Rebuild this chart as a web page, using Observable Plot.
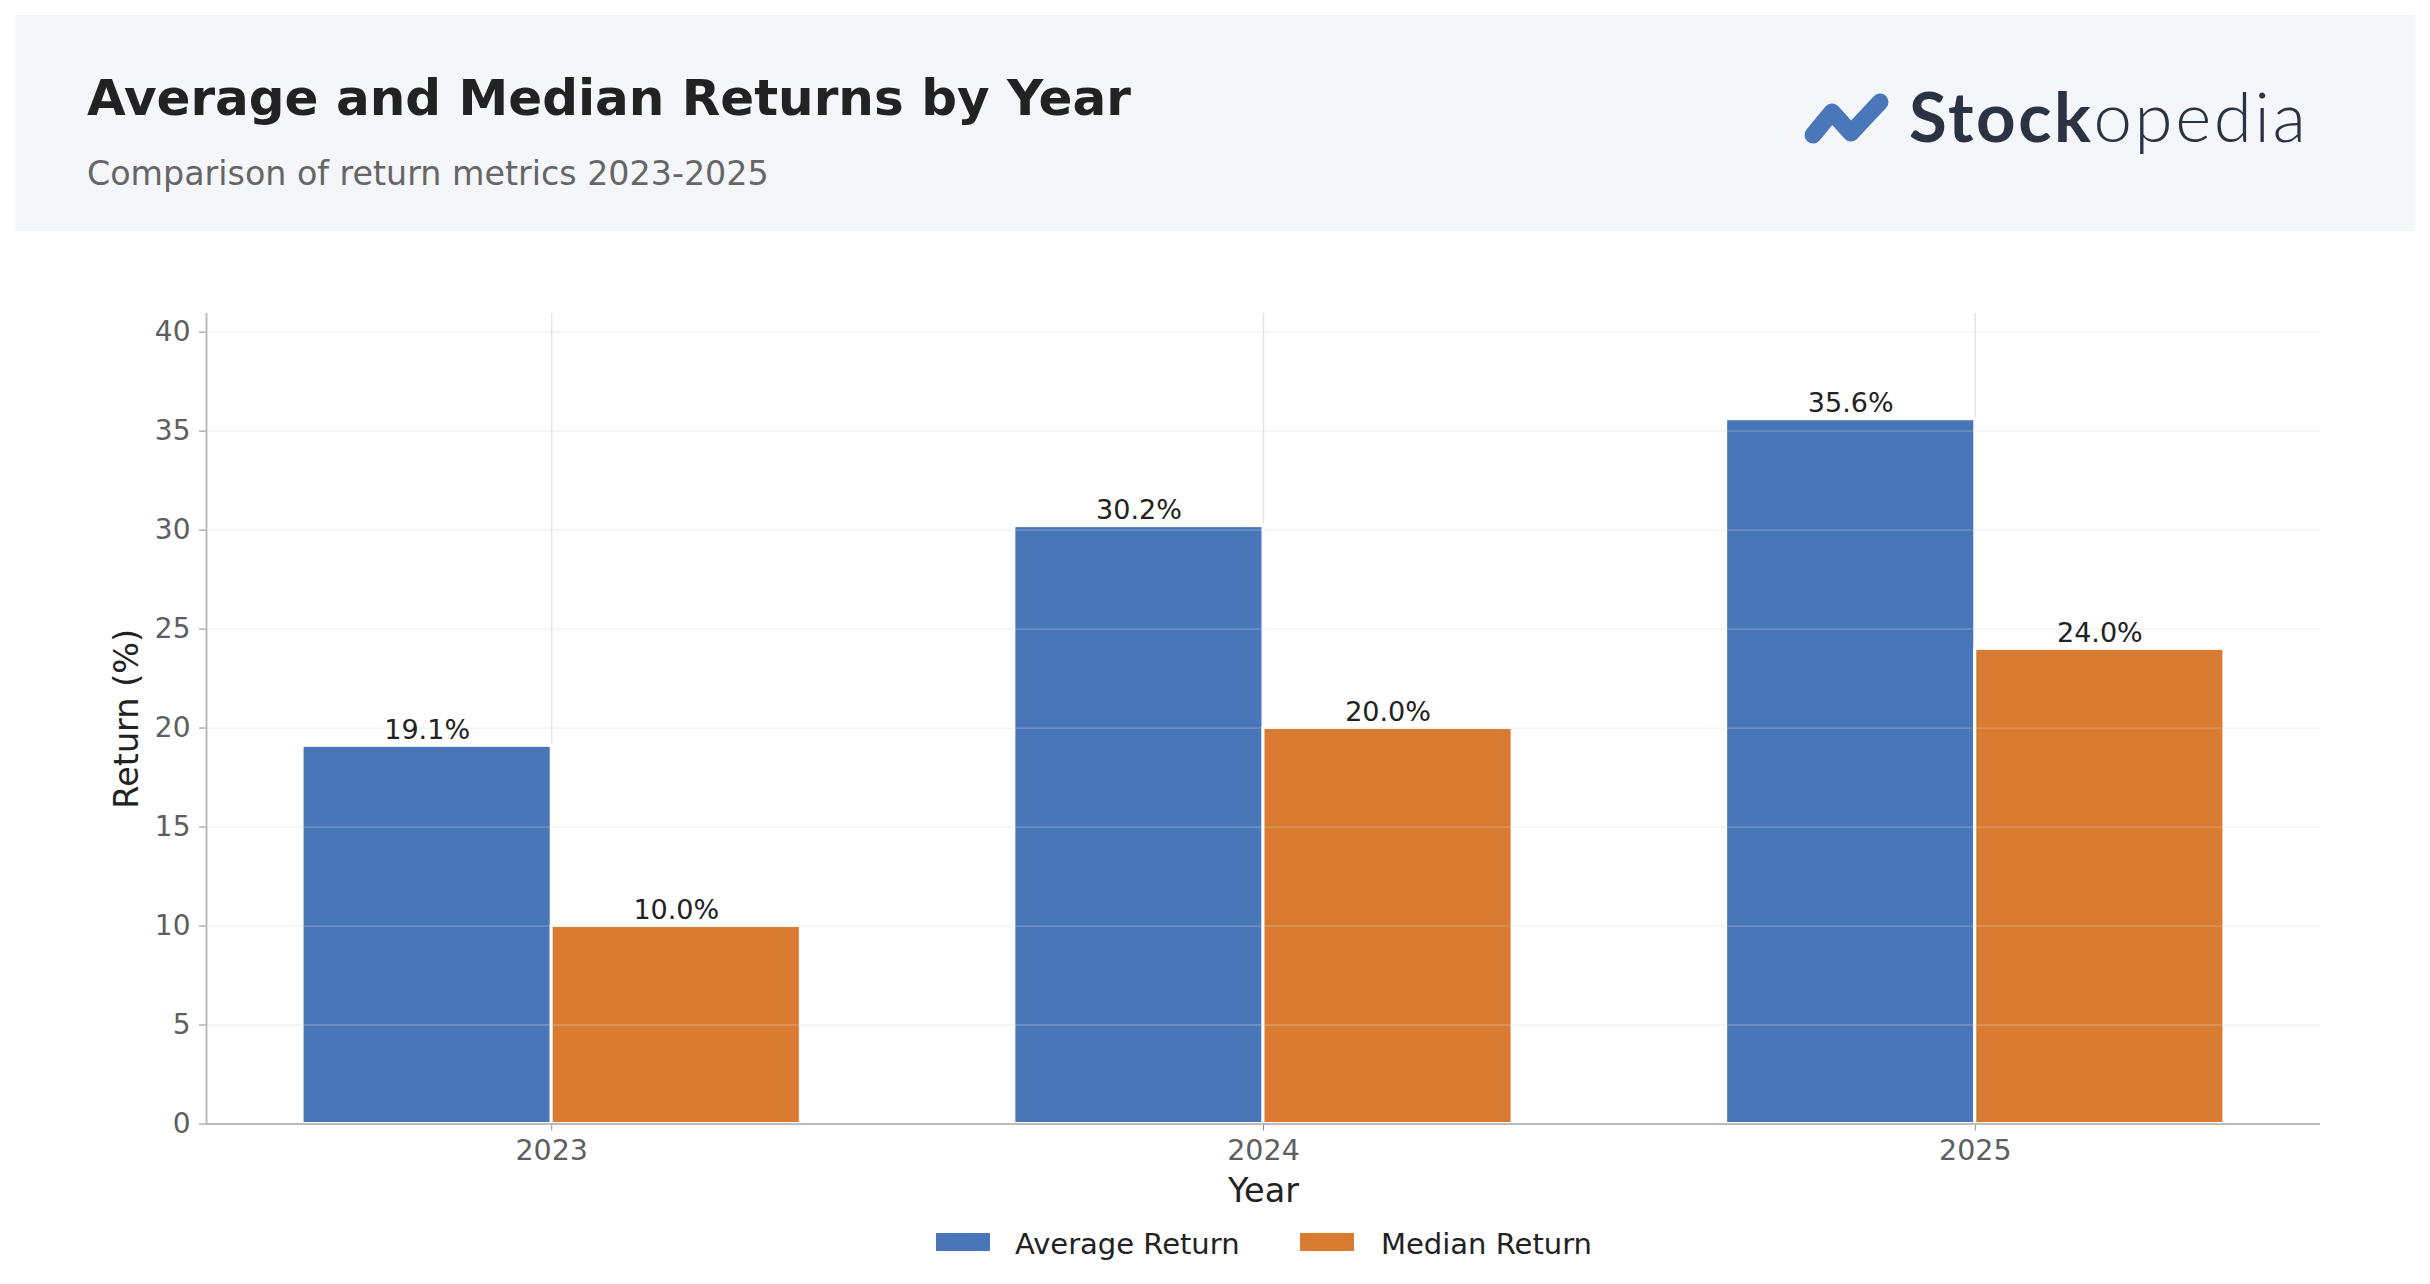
<!DOCTYPE html>
<html>
<head>
<meta charset="utf-8">
<script src="https://cdn.jsdelivr.net/npm/d3@7"></script>
<script src="https://cdn.jsdelivr.net/npm/@observablehq/plot@0.6"></script>
<style>
  html, body { margin: 0; padding: 0; background: #ffffff; }
  #page { position: relative; width: 2430px; height: 1284px; overflow: hidden; font-family: "DejaVu Sans", sans-serif; }
  #header { position: absolute; left: 0; top: 0; }
  #chart { position: absolute; left: 0; top: 261.5px; }
  #legend { position: absolute; left: 0; top: 1200px; }
</style>
</head>
<body>
<div id="page">
  <svg id="header" width="2430" height="240">
    <rect x="15" y="15" width="2400" height="216" fill="#f5f6fa"></rect>
    <text x="87" y="115" font-family="DejaVu Sans" font-weight="bold" font-size="50" fill="#222222">Average and Median Returns by Year</text>
    <text x="87" y="185" font-family="DejaVu Sans" font-size="33.3" fill="#666666">Comparison of return metrics 2023-2025</text>
    <g id="logo">
      <polyline points="1813,135 1832,112 1851,133 1880,102" fill="none" stroke="#4a77ba" stroke-width="17" stroke-linecap="round" stroke-linejoin="round"></polyline>
      <text x="1909" y="142" font-family="Lato" font-size="69" letter-spacing="2.6" fill="#2b3243"><tspan font-weight="bold">Stock</tspan><tspan font-weight="300">opedia</tspan></text>
    </g>
  </svg>
  <div id="chart"></div>
  <svg id="legend" width="2430" height="84"></svg>
</div>
<script>
// ---- data ----
const years = ["2023", "2024", "2025"];
const averageReturn = [19.1, 30.2, 35.6];
const medianReturn = [10.0, 20.0, 24.0];
const seriesNames = ["Average Return", "Median Return"];
const seriesColors = ["#4876b8", "#d97c31"];
const yTicks = [0, 5, 10, 15, 20, 25, 30, 35, 40];

// ---- table ----
const barW = 0.35;
const rows = [];
years.forEach((yr, i) => {
  rows.push({year: yr, i, series: seriesNames[0], value: averageReturn[i], off: -1});
  rows.push({year: yr, i, series: seriesNames[1], value: medianReturn[i], off: 0});
});
const yMax = d3.max(rows, d => d.value) * 1.15;
const xLo = -barW - 0.05 * (years.length - 1 + 2 * barW);
const xHi = years.length - 1 + barW + 0.05 * (years.length - 1 + 2 * barW);

const chart = Plot.plot({
  width: 2430,
  height: 960,
  marginLeft: 206,
  marginRight: 110,
  marginTop: 51,
  marginBottom: 98.5,
  style: {fontFamily: "DejaVu Sans", fontSize: "28px", background: "transparent"},
  x: {domain: [xLo, xHi], axis: null},
  y: {domain: [0, yMax], axis: null},
  color: {domain: seriesNames, range: seriesColors},
  marks: [
    Plot.ruleX(years.map((_, i) => i), {stroke: "#e2e2e2", strokeWidth: 1.3}),
    Plot.rectY(rows, {
      x1: d => d.i + d.off * barW,
      x2: d => d.i + (d.off + 1) * barW,
      y1: 0,
      y2: "value",
      fill: "series",
      stroke: "#ffffff",
      strokeWidth: 3
    }),
    Plot.ruleY(yTicks.slice(1), {stroke: "#d4d4d4", strokeOpacity: 0.35, strokeWidth: 1.3}),
    Plot.text(rows, {
      x: d => d.i + (d.off + 0.5) * barW,
      y: "value",
      text: d => d.value.toFixed(1) + "%",
      lineAnchor: "bottom",
      dy: -7,
      fontSize: 27,
      fill: "#222222"
    }),
    Plot.axisY({ticks: yTicks, tickSize: 7, tickPadding: 9, color: "#5e5e5e", stroke: "#8a8a8a", label: null, fontSize: 28}),
    Plot.axisX({ticks: years.map((_, i) => i), tickFormat: i => years[i], tickSize: 7, tickPadding: 9, color: "#5e5e5e", stroke: "#8a8a8a", label: null, fontSize: 28.5}),
    Plot.ruleX([xLo], {stroke: "#bbbbbb", strokeWidth: 2}),
    Plot.ruleY([0], {stroke: "#bbbbbb", strokeWidth: 2}),
    Plot.text(["Return (%)"], {frameAnchor: "left", dx: -79, rotate: -90, textAnchor: "middle", lineAnchor: "middle", fontSize: 33.5, fill: "#222222"}),
    Plot.text(["Year"], {frameAnchor: "bottom", dy: 67, lineAnchor: "middle", fontSize: 33.5, fill: "#222222"})
  ]
});
document.getElementById("chart").appendChild(chart);

// ---- legend ----
const legend = d3.select("#legend");
const legendItems = [
  {name: seriesNames[0], color: seriesColors[0], sx: 936, tx: 1015},
  {name: seriesNames[1], color: seriesColors[1], sx: 1300, tx: 1381}
];
legendItems.forEach(it => {
  legend.append("rect").attr("x", it.sx).attr("y", 33).attr("width", 54).attr("height", 18).attr("fill", it.color);
  legend.append("text").attr("x", it.tx).attr("y", 53.5).attr("font-family", "DejaVu Sans").attr("font-size", 29).attr("fill", "#222222").text(it.name);
});
</script>
</body>
</html>
